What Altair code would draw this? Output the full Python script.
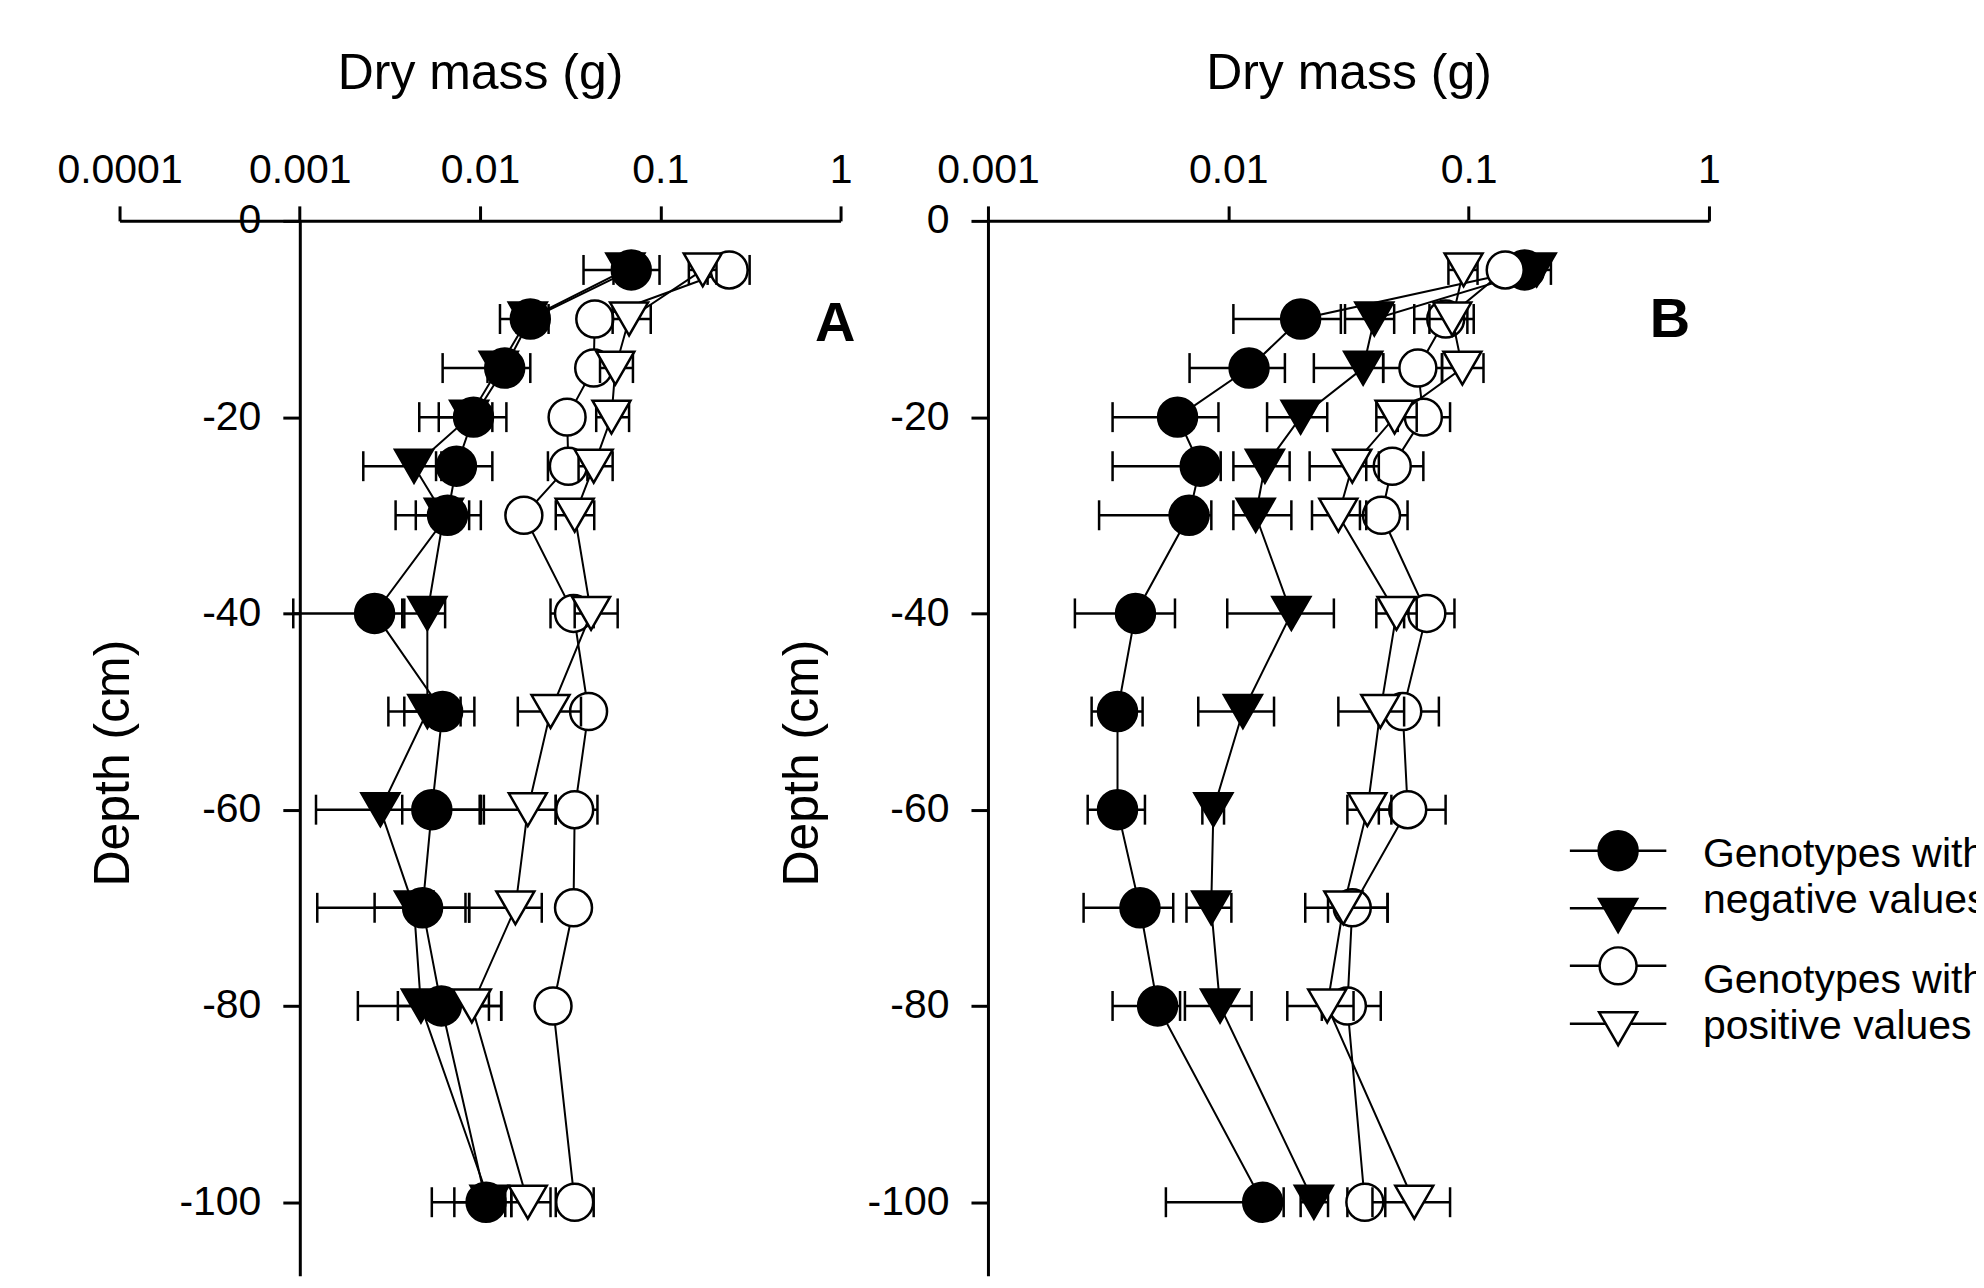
import altair as alt
import pandas as pd

FONT = "Liberation Sans"

depths = [-5, -10, -15, -20, -25, -30, -40, -50, -60, -70, -80, -100]

# ---------------- Panel A ----------------
a_neg_circle = [0.069, 0.019, 0.0137, 0.0092, 0.0074, 0.0066, 0.0026, 0.0062, 0.0054, 0.0048, 0.0061, 0.0108]
a_neg_circle_lo = [0.0375, 0.0129, 0.0062, 0.0046, 0.0057, 0.0044, 0.00092, 0.0038, 0.0037, 0.0026, 0.0035, 0.0054]
a_neg_circle_hi = [0.099, 0.024, 0.019, 0.014, 0.0117, 0.0101, 0.0037, 0.0093, 0.0105, 0.0083, 0.0131, 0.0138]

a_neg_tri = [0.064, 0.0184, 0.0127, 0.0087, 0.0043, 0.0063, 0.0051, 0.0051, 0.0028, 0.0043, 0.0047, 0.0113]
a_neg_tri_lo = [0.055, 0.016, 0.011, 0.0059, 0.00225, 0.0034, 0.0038, 0.0031, 0.00123, 0.00125, 0.0021, 0.0072]
a_neg_tri_hi = [0.075, 0.021, 0.015, 0.0117, 0.0061, 0.0087, 0.0064, 0.0078, 0.00995, 0.0087, 0.0112, 0.0149]

a_pos_circle = [0.241, 0.0433, 0.0427, 0.0304, 0.0309, 0.0175, 0.0330, 0.0400, 0.0335, 0.0330, 0.0254, 0.0335]
a_pos_circle_lo = [0.183, 0.0375, 0.0375, 0.0263, 0.0238, 0.0157, 0.0246, 0.0352, 0.0263, 0.0294, 0.0227, 0.0263]
a_pos_circle_hi = [0.313, 0.050, 0.0486, 0.0352, 0.0394, 0.0196, 0.0427, 0.0455, 0.0448, 0.0369, 0.0285, 0.0427]

a_pos_tri = [0.172, 0.0671, 0.0563, 0.0536, 0.0427, 0.0335, 0.0413, 0.0246, 0.0184, 0.0157, 0.0090, 0.0184]
a_pos_tri_lo = [0.144, 0.0544, 0.0463, 0.0441, 0.0352, 0.0263, 0.0335, 0.0162, 0.0101, 0.0087, 0.0072, 0.0149]
a_pos_tri_hi = [0.205, 0.0885, 0.0705, 0.0671, 0.0544, 0.043, 0.058, 0.0363, 0.0263, 0.022, 0.0131, 0.0246]

# ---------------- Panel B ----------------
b_neg_circle = [0.171, 0.0200, 0.0122, 0.00615, 0.00764, 0.00687, 0.00411, 0.00346, 0.00346, 0.00429, 0.00508, 0.0139]
b_neg_circle_lo = [0.15, 0.0105, 0.0069, 0.0033, 0.0033, 0.0029, 0.0023, 0.0027, 0.0026, 0.0025, 0.0033, 0.0055]
b_neg_circle_hi = [0.19, 0.0294, 0.0172, 0.0091, 0.0093, 0.0085, 0.0060, 0.0044, 0.0045, 0.0059, 0.0063, 0.017]

b_neg_tri = [0.192, 0.0405, 0.0364, 0.0200, 0.0142, 0.0130, 0.0183, 0.0115, 0.00867, 0.00849, 0.00924, 0.0227]
b_neg_tri_lo = [0.17, 0.0306, 0.0227, 0.0145, 0.0105, 0.0105, 0.0099, 0.0075, 0.0078, 0.0067, 0.0066, 0.020]
b_neg_tri_hi = [0.22, 0.049, 0.0441, 0.0258, 0.018, 0.0183, 0.0275, 0.0155, 0.0096, 0.0103, 0.0125, 0.026]

b_pos_circle = [0.142, 0.0803, 0.0615, 0.0648, 0.0481, 0.0434, 0.0670, 0.0532, 0.0558, 0.0328, 0.0313, 0.0370]
b_pos_circle_lo = [0.13, 0.0594, 0.0441, 0.0507, 0.0375, 0.0353, 0.0539, 0.0423, 0.0423, 0.026, 0.0245, 0.0313]
b_pos_circle_hi = [0.155, 0.0988, 0.0775, 0.0837, 0.0648, 0.0557, 0.0873, 0.0752, 0.0802, 0.046, 0.0431, 0.045]

b_pos_tri = [0.0953, 0.0855, 0.0942, 0.0492, 0.0328, 0.0287, 0.0501, 0.0429, 0.0379, 0.0301, 0.0258, 0.0594]
b_pos_tri_lo = [0.0824, 0.0687, 0.0775, 0.0413, 0.0218, 0.0223, 0.0413, 0.0287, 0.0313, 0.0209, 0.0176, 0.0398]
b_pos_tri_hi = [0.1089, 0.105, 0.1153, 0.0608, 0.0423, 0.0375, 0.0608, 0.0539, 0.0477, 0.046, 0.0332, 0.0837]

x_ticks_a = [0.0001, 0.001, 0.01, 0.1, 1]
x_ticks_b = [0.001, 0.01, 0.1, 1]
y_ticks = [0, -20, -40, -60, -80, -100]

legend_labels = [["Genotypes with", "negative values"], ["Genotypes with", "positive values"]]

STYLE = {
    "neg_circle": dict(shape="circle", fill="black", size=1521),
    "neg_tri": dict(shape="triangle-down", fill="black", size=1444),
    "pos_circle": dict(shape="circle", fill="white", size=1369),
    "pos_tri": dict(shape="triangle-down", fill="white", size=1444),
}

PLOT_H = 1056.4
Y_DOMAIN = [-107.5, 0]


def make_panel(series, domain, ticks, width, y_offset, ytitle_x, letter, letter_xy, legend=False):
    xscale = alt.Scale(type="log", domain=domain, nice=False)
    xaxis = alt.Axis(orient="top", values=ticks, format="~g", title="Dry mass (g)",
                     titleY=-132.7, titleBaseline="alphabetic", labelFlush=False)
    yscale = alt.Scale(domain=Y_DOMAIN, nice=False, zero=False)
    yaxis = alt.Axis(values=y_ticks, labelExpr="datum.value + ''", title="Depth (cm)",
                     offset=y_offset, titleX=ytitle_x, titleY=542.5, titleAngle=270,
                     titleBaseline="middle", titleAlign="center", labelFlush=False)
    layers = []
    for key, (vals, lo, hi) in series.items():
        st = STYLE[key]
        df = pd.DataFrame({"depth": depths, "mass": vals, "lo": lo, "hi": hi,
                           "i": list(range(len(depths)))})
        base = alt.Chart(df)
        y = alt.Y("depth:Q", scale=yscale, axis=yaxis)
        layers.append(base.mark_line(color="black", strokeWidth=2).encode(
            x=alt.X("mass:Q", scale=xscale, axis=xaxis), y=y, order="i:Q"))
        layers.append(base.mark_rule(color="black", strokeWidth=2.5).encode(
            x=alt.X("lo:Q", scale=xscale, axis=xaxis), x2="hi:Q", y=y))
        for f in ("lo", "hi"):
            layers.append(base.mark_tick(orient="vertical", color="black", size=30,
                                         thickness=2.5, opacity=1).encode(
                x=alt.X(f + ":Q", scale=xscale, axis=xaxis), y=y))
        layers.append(base.mark_point(shape=st["shape"], filled=True, fill=st["fill"],
                                      stroke="black", strokeWidth=2.5, size=st["size"],
                                      opacity=1).encode(
            x=alt.X("mass:Q", scale=xscale, axis=xaxis), y=y))

    one = pd.DataFrame({"t": [letter]})
    layers.append(alt.Chart(one).mark_text(font=FONT, fontSize=56, fontWeight="bold",
                                           align="center", baseline="alphabetic",
                                           color="black").encode(
        x=alt.value(letter_xy[0]), y=alt.value(letter_xy[1]), text="t:N"))

    if legend:
        entries = [("neg_circle", 630.7, 630.7), ("neg_tri", 688.3, 695.6),
                   ("pos_circle", 746.0, 746.0), ("pos_tri", 804.0, 809.0)]
        for key, ly, py in entries:
            st = STYLE[key]
            d1 = pd.DataFrame({"k": [key]})
            layers.append(alt.Chart(d1).mark_rule(color="black", strokeWidth=2.5).encode(
                x=alt.value(582.7), x2=alt.value(679.3), y=alt.value(ly)))
            layers.append(alt.Chart(d1).mark_point(shape=st["shape"], filled=True,
                                                   fill=st["fill"], stroke="black",
                                                   strokeWidth=2.5, size=st["size"],
                                                   opacity=1).encode(
                x=alt.value(631), y=alt.value(py)))
        text_y = [647, 693, 773, 819]
        lines = [legend_labels[0][0], legend_labels[0][1], legend_labels[1][0], legend_labels[1][1]]
        for t, ty in zip(lines, text_y):
            dt = pd.DataFrame({"t": [t]})
            layers.append(alt.Chart(dt).mark_text(font=FONT, fontSize=41, align="left",
                                                  baseline="alphabetic", color="black").encode(
                x=alt.value(716), y=alt.value(ty), text="t:N"))

    return alt.layer(*layers).properties(width=width, height=PLOT_H)


panel_a = make_panel(
    {"neg_circle": (a_neg_circle, a_neg_circle_lo, a_neg_circle_hi),
     "neg_tri": (a_neg_tri, a_neg_tri_lo, a_neg_tri_hi),
     "pos_circle": (a_pos_circle, a_pos_circle_lo, a_pos_circle_hi),
     "pos_tri": (a_pos_tri, a_pos_tri_lo, a_pos_tri_hi)},
    [0.0001, 1], x_ticks_a, 722, -180.5, -186.7, "A", (716.6, 120))

panel_b = make_panel(
    {"neg_circle": (b_neg_circle, b_neg_circle_lo, b_neg_circle_hi),
     "neg_tri": (b_neg_tri, b_neg_tri_lo, b_neg_tri_hi),
     "pos_circle": (b_pos_circle, b_pos_circle_lo, b_pos_circle_hi),
     "pos_tri": (b_pos_tri, b_pos_tri_lo, b_pos_tri_hi)},
    [0.001, 1], x_ticks_b, 722, 0, -185.5, "B", (683, 116.7), legend=True)

chart = alt.hconcat(panel_a, panel_b, spacing=147.6, bounds="flush").properties(
    padding={"left": 48.7, "top": 39.3, "right": -12, "bottom": 0}
).configure_view(stroke=None).configure_axis(
    grid=False, domainColor="black", tickColor="black", labelColor="black",
    titleColor="black", labelFont=FONT, titleFont=FONT, labelFontSize=41,
    titleFontSize=50, titleFontWeight="normal", domainWidth=3, tickWidth=3,
).configure_axisX(tickSize=15, labelPadding=14).configure_axisY(
    tickSize=17, labelPadding=22)

chart.save("out.html", embed_options={"renderer": "svg", "actions": False})
